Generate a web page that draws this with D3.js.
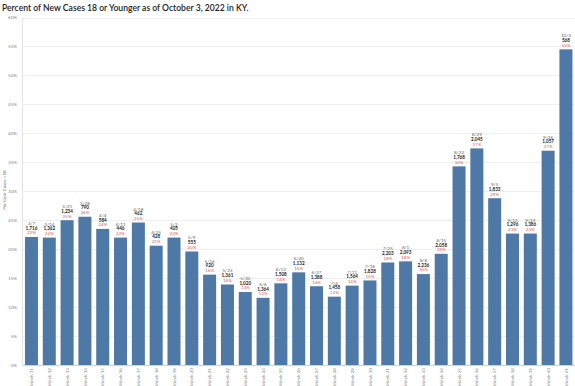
<!DOCTYPE html>
<html>
<head>
<meta charset="utf-8">
<script src="https://cdn.jsdelivr.net/npm/d3@7"></script>
<style>
  body { margin: 0; background: #fff; }
  svg text { font-family: Lato, "Open Sans", sans-serif; }
</style>
</head>
<body>
<svg id="chart" width="575" height="386"></svg>
<script>
// data
var weeks = ["Week 11","Week 12","Week 13","Week 14","Week 15","Week 16","Week 17","Week 18","Week 19","Week 20",
  "Week 21","Week 22","Week 23","Week 24","Week 25","Week 26","Week 27","Week 28","Week 29","Week 30",
  "Week 31","Week 32","Week 33","Week 34","Week 35","Week 36","Week 37","Week 38","Week 39","Week 40","Week 41"];
var dates = ["3/7","3/14","3/21","3/28","4/4","4/11","4/18","4/25","5/2","5/9",
  "5/16","5/23","5/30","6/6","6/13","6/20","6/27","7/4","7/11","7/18",
  "7/25","8/1","8/8","8/15","8/22","8/29","9/5","9/12","9/19","9/26","10/3"];
var cases = ["1,716","1,362","1,234","790","584","446","462","428","405","555",
  "920","1,361","1,020","1,364","1,508","1,132","1,388","1,458","1,564","1,828",
  "2,203","2,093","2,236","2,058","1,768","2,045","1,833","1,296","1,386","1,057","568"];
var pct = [22.1, 22.0, 25.0, 25.6, 23.5, 22.0, 24.6, 20.6, 22.0, 19.6,
  15.6, 13.9, 12.6, 11.6, 14.1, 16.0, 13.6, 11.8, 13.7, 14.6,
  17.7, 17.9, 15.7, 19.2, 34.3, 37.4, 28.8, 22.7, 22.7, 37.0, 54.5];
var yTicks = [0,5,10,15,20,25,30,35,40,45,50,55,60];

var svg = d3.select("#chart");

var x = d3.scaleBand().domain(weeks).range([21.4, 576]).paddingInner(0.27).paddingOuter(0.2);
var y = d3.scaleLinear().domain([0, 60]).range([365, 17.5]);

// title
svg.append("text").attr("x", 2).attr("y", 11)
  .attr("font-size", 8.6).attr("font-weight", 600).attr("fill", "#222")
  .text("Percent of New Cases 18 or Younger as of October 3, 2022 in KY.");

// gridlines
svg.append("g").selectAll("line").data(yTicks).enter().append("line")
  .attr("x1", 22).attr("x2", 575)
  .attr("y1", function(d){ return Math.round(y(d)) + 0.5; })
  .attr("y2", function(d){ return Math.round(y(d)) + 0.5; })
  .attr("stroke", function(d){ return d == 0 ? "#d0d0d0" : "#efefef"; })
  .attr("stroke-width", 1);

// y axis
var yAxis = svg.append("g").attr("transform", "translate(22,0)")
  .call(d3.axisLeft(y).tickValues(yTicks).tickSize(0).tickPadding(5).tickFormat(function(d){ return d + "%"; }));
yAxis.select(".domain").attr("stroke", "#e4e4e4");
yAxis.selectAll("text").attr("font-size", 4.6).attr("fill", "#888").attr("font-family", "Lato, sans-serif");

svg.append("text").attr("transform", "translate(5.5,190) rotate(-90)")
  .attr("text-anchor", "middle").attr("font-size", 4.6).attr("fill", "#666")
  .text("Per Cent Cases <18");

// x axis
var xAxis = svg.append("g").attr("transform", "translate(0,365)")
  .call(d3.axisBottom(x).tickSize(0).tickPadding(0));
xAxis.select(".domain").remove();
xAxis.selectAll("text")
  .attr("font-size", 4.6).attr("fill", "#888").attr("font-family", "Lato, sans-serif")
  .attr("text-anchor", "end").attr("dy", null)
  .attr("transform", "translate(1.6,3) rotate(-90)");

// bars
var idx = d3.range(weeks.length);
svg.append("g").selectAll("rect").data(idx).enter().append("rect")
  .attr("x", function(i){ return x(weeks[i]); })
  .attr("width", x.bandwidth())
  .attr("y", function(i){ return y(pct[i]); })
  .attr("height", function(i){ return y(0) - y(pct[i]); })
  .attr("fill", "#4e79a7");

// labels above bars
var lab = svg.append("g").attr("text-anchor", "middle").attr("font-size", 4.6);
idx.forEach(function(i){
  var cx = x(weeks[i]) + x.bandwidth() / 2;
  var top = y(pct[i]);
  lab.append("text").attr("x", cx).attr("y", top - 12).attr("fill", "#666").text(dates[i]);
  lab.append("text").attr("x", cx).attr("y", top - 7.3).attr("fill", "#222").attr("font-weight", 700).text(cases[i]);
  lab.append("text").attr("x", cx).attr("y", top - 2.6).attr("fill", "#e0605a").text(Math.round(pct[i]) + "%");
});
</script>
</body>
</html>
